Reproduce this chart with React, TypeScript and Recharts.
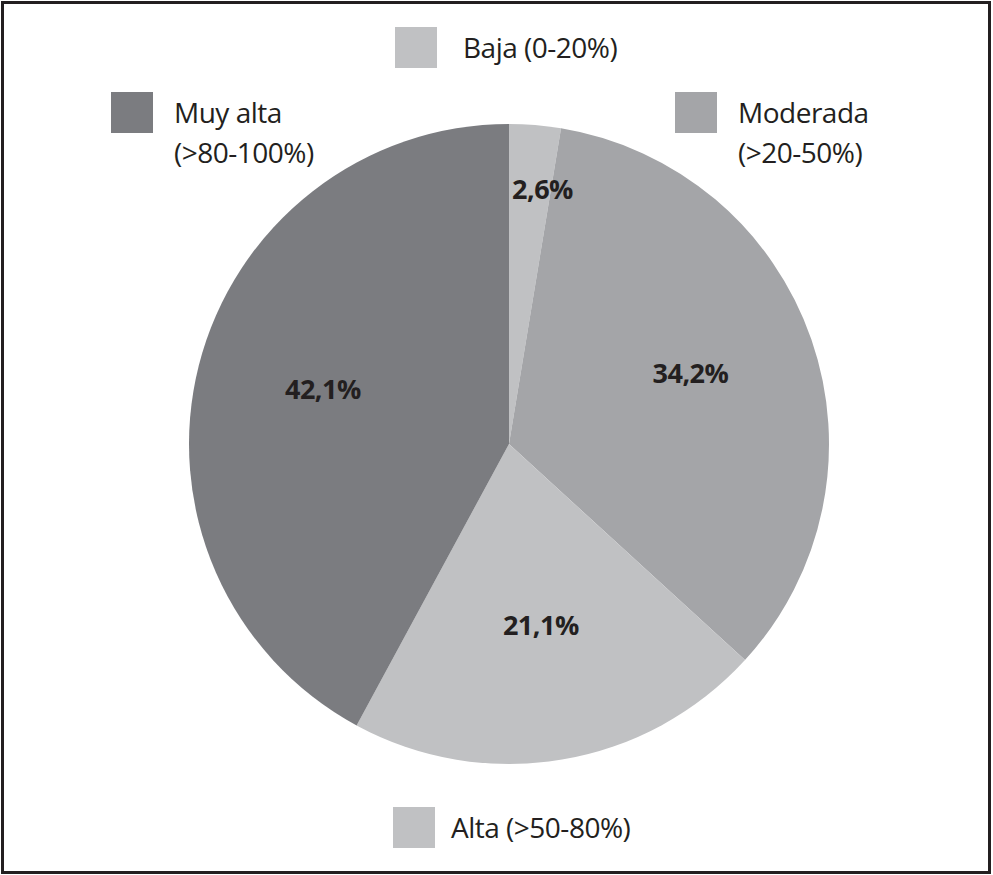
import React from "react";
import { PieChart, Pie, Cell } from "recharts";

const categories = ["Baja (0-20%)", "Moderada (>20-50%)", "Alta (>50-80%)", "Muy alta (>80-100%)"];
const legendLines = [["Baja (0-20%)"], ["Moderada", "(>20-50%)"], ["Alta (>50-80%)"], ["Muy alta", "(>80-100%)"]];
const values = [2.6, 34.2, 21.1, 42.1];
const valueLabels = ["2,6%", "34,2%", "21,1%", "42,1%"];
const colors = ["#c0c1c3", "#a4a5a8", "#c0c1c3", "#7b7c80"];

const data = categories.map((name, i) => ({ name, value: values[i], label: valueLabels[i] }));

const RAD = Math.PI / 180;
const FONT = "'Open Sans', 'Noto Sans', sans-serif";

const renderLabel = (props: any) => {
  const { cx, cy, midAngle, outerRadius, percent, index, startAngle, endAngle } = props;
  const small = percent < 0.05;
  let x: number, y: number, anchor: "start" | "middle" = "middle";
  if (small) {
    const a = Math.max(startAngle, endAngle);
    const r = outerRadius * 0.8;
    x = cx + r * Math.cos(-a * RAD) + 3;
    y = cy + r * Math.sin(-midAngle * RAD);
    anchor = "start";
  } else {
    const r = outerRadius * 0.6;
    x = cx + r * Math.cos(-midAngle * RAD);
    y = cy + r * Math.sin(-midAngle * RAD) - 8;
  }
  return (
    <text x={x} y={y} dy={10} textAnchor={anchor} fill="#231f20" fontFamily={FONT} fontWeight={700} fontSize={27} letterSpacing={-0.5}>
      {data[index].label}
    </text>
  );
};

const legendPos = [
  { left: 395, top: 27, textLeft: 463 },
  { left: 675, top: 92, textLeft: 738 },
  { left: 393, top: 807, textLeft: 451 },
  { left: 111, top: 92, textLeft: 174 },
];

export default function App() {
  return (
    <div style={{ position: "absolute", left: 0, top: 0, width: 993, height: 875, background: "#fff" }}>
      <div style={{ position: "absolute", left: 1, top: 1, width: 984, height: 867, border: "3px solid #231f20" }} />
      <div style={{ position: "absolute", left: 0, top: 0 }}>
        <PieChart width={993} height={875} margin={{ top: 0, right: 0, bottom: 0, left: 0 }}>
          <Pie
            data={data}
            dataKey="value"
            nameKey="name"
            cx={509}
            cy={444}
            outerRadius={320}
            startAngle={90}
            endAngle={-270}
            stroke="none"
            label={renderLabel}
            labelLine={false}
            isAnimationActive={false}
          >
            {data.map((d, i) => (
              <Cell key={d.name} fill={colors[i]} />
            ))}
          </Pie>
        </PieChart>
      </div>
      {legendPos.map((p, i) => (
        <React.Fragment key={categories[i]}>
          <div style={{ position: "absolute", left: p.left, top: p.top, width: 42, height: 41, background: colors[i] }} />
          <div
            style={{
              position: "absolute",
              left: p.textLeft,
              top: p.top,
              fontFamily: FONT,
              fontSize: 28,
              lineHeight: "40px",
              color: "#231f20",
              whiteSpace: "nowrap",
              letterSpacing: -0.5,
            }}
          >
            {legendLines[i].map((l) => (
              <div key={l}>{l}</div>
            ))}
          </div>
        </React.Fragment>
      ))}
    </div>
  );
}
